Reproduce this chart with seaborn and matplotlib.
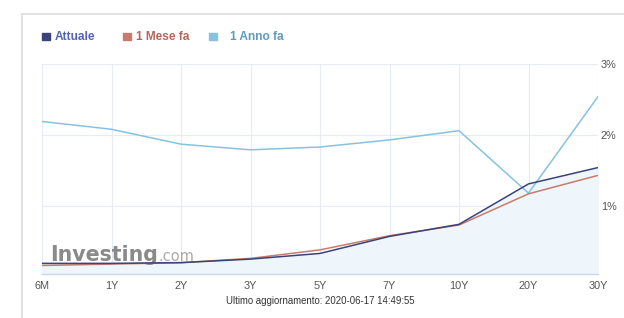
import pandas as pd
import matplotlib.pyplot as plt
import seaborn as sns
from matplotlib.lines import Line2D

# scadenze e rendimenti (%)
scadenze = ["6M", "1Y", "2Y", "3Y", "5Y", "7Y", "10Y", "20Y", "30Y"]
attuale = [0.19, 0.19, 0.20, 0.25, 0.33, 0.57, 0.74, 1.31, 1.54]
mese_fa = [0.16, 0.18, 0.20, 0.26, 0.38, 0.58, 0.73, 1.17, 1.43]
anno_fa = [2.19, 2.08, 1.87, 1.79, 1.83, 1.93, 2.06, 1.18, 2.54]
serie = ["Attuale", "1 Mese fa", "1 Anno fa"]
colori = ["#3b4379", "#c97a6c", "#86c2e2"]
colori_testo = ["#5563b5", "#b5665b", "#5d9bbd"]
y_ticks = [1, 2, 3]
y_labels = ["1%", "2%", "3%"]

df = pd.DataFrame({
    "Scadenza": scadenze * 3,
    "Rendimento": attuale + mese_fa + anno_fa,
    "Serie": ["Attuale"] * 9 + ["1 Mese fa"] * 9 + ["1 Anno fa"] * 9,
})

sns.set_style("white")
plt.rcParams["font.family"] = ["Liberation Sans", "DejaVu Sans"]

fig = plt.figure(figsize=(6.24, 3.18), dpi=100)
ax = fig.add_axes([42 / 624, 44 / 318, 556 / 624, 210 / 318])

# area sotto la curva attuale
ax.fill_between(range(len(scadenze)), attuale, 0, color="#eef6fc", zorder=1)

sns.lineplot(data=df, x="Scadenza", y="Rendimento", hue="Serie",
             hue_order=serie[::-1], palette=dict(zip(serie, colori)),
             linewidth=1.1, legend=False, ax=ax, zorder=3)

ax.set_xlim(0, len(scadenze) - 1)
ax.set_ylim(0.04, 3.0)
ax.set_xticks(range(len(scadenze)))
ax.set_xticklabels(scadenze)
ax.set_yticks(y_ticks)
ax.set_yticklabels(y_labels)
ax.yaxis.tick_right()
ax.set_xlabel("")
ax.set_ylabel("")
ax.tick_params(axis="both", length=0, labelsize=7.8, labelcolor="#555555")
ax.tick_params(axis="x", pad=5)
ax.tick_params(axis="y", pad=2)
ax.grid(True, color="#e6ebf5", linewidth=0.8, zorder=0)
for s in ["top", "left", "right"]:
    ax.spines[s].set_visible(False)
ax.spines["bottom"].set_color("#ccd6eb")
ax.spines["bottom"].set_linewidth(1)
ax.set_axisbelow(True)

# logo Investing.com
ax.text(0.12, 0.23, "Investing", fontsize=14.8, fontweight="bold",
        family="DejaVu Sans", color="#8a8a8a", ha="left", va="baseline", zorder=2)
ax.text(1.67, 0.23, ".com", fontsize=10.5, family="DejaVu Sans",
        color="#aaaaaa", ha="left", va="baseline", zorder=2)

# legenda
leg_x = [42, 123, 209]
leg_tx = [55, 136, 230]
for nome, c, ct, x, tx in zip(serie, colori, colori_testo, leg_x, leg_tx):
    fig.patches.append(plt.Rectangle((x / 624, 1 - 40 / 318), 8 / 624, 7 / 318,
                                     color=c, transform=fig.transFigure))
    fig.text(tx / 624, 1 - 37 / 318, nome, fontsize=8.6, fontweight="bold",
             color=ct, ha="left", va="center")

fig.text(320 / 624, 1 - 301 / 318, "Ultimo aggiornamento: 2020-06-17 14:49:55",
         fontsize=6.9, color="#333333", ha="center", va="center")

# cornice
fig.add_artist(Line2D([22 / 624, 1], [1 - 14 / 318, 1 - 14 / 318],
                      color="#e2e2e2", linewidth=1.5, transform=fig.transFigure))
fig.add_artist(Line2D([22 / 624, 22 / 624], [0, 1 - 14 / 318],
                      color="#e2e2e2", linewidth=1.5, transform=fig.transFigure))

fig.savefig("out.png", dpi=100)
